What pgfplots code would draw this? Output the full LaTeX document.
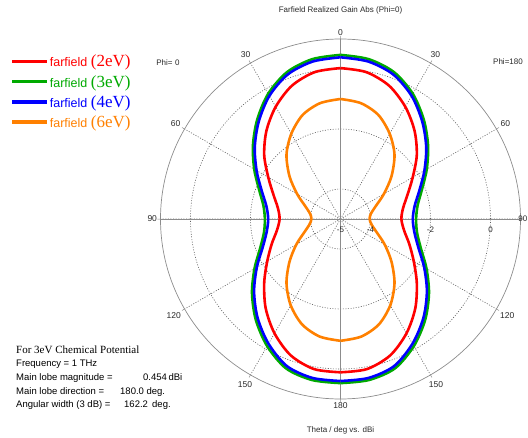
\documentclass[border=0pt]{standalone}
\usepackage{fontspec}
\setmainfont{Liberation Sans}
\newfontfamily\seriffont{Liberation Serif}
\usepackage{pgfplots}
\pgfplotsset{compat=1.18}
\usepgfplotslibrary{polar}
\usepackage{pgfplotstable}

\definecolor{cred}{RGB}{255,0,0}
\definecolor{cgreen}{RGB}{0,170,0}
\definecolor{cblue}{RGB}{0,0,255}
\definecolor{corange}{RGB}{255,128,0}
\definecolor{gridgray}{RGB}{95,95,95}
\definecolor{axgray}{RGB}{140,140,140}
\definecolor{txtgray}{RGB}{40,40,40}

% theta (deg), realized gain (dBi) for 2, 3, 4, 6 eV
\pgfplotstableread{
theta r2 r3 r4 r6
0 0.03 0.47 0.39 -1.00
10 -0.03 0.41 0.33 -1.08
20 -0.27 0.21 0.13 -1.31
30 -0.68 -0.18 -0.26 -1.72
40 -1.16 -0.68 -0.76 -2.20
50 -1.68 -1.19 -1.27 -2.78
60 -2.22 -1.68 -1.77 -3.33
70 -2.62 -2.11 -2.20 -3.75
80 -2.88 -2.39 -2.49 -3.97
90 -2.97 -2.48 -2.59 -4.03
100 -2.85 -2.41 -2.50 -3.95
110 -2.56 -2.15 -2.24 -3.72
120 -2.18 -1.69 -1.78 -3.30
130 -1.68 -1.15 -1.24 -2.78
140 -1.12 -0.61 -0.70 -2.20
150 -0.60 -0.11 -0.20 -1.68
160 -0.16 0.30 0.22 -1.26
170 0.08 0.45 0.38 -1.02
180 0.11 0.47 0.40 -0.94
}\gain

\begin{document}
\begin{tikzpicture}[x=1pt,y=1pt]
\useasboundingbox (0,0) rectangle (528,-438);
\begin{polaraxis}[
  at={(340.5pt,-219pt)}, anchor=center,
  scale only axis, width=360pt, height=360pt,
  xmin=0, xmax=360, ymin=0, ymax=6,
  xtick={0,30,...,330},
  xticklabels={,60,30,0,30,60,90,120,150,180,150,120},
  ytick={1,3,5}, yticklabels={},
  ytick style={draw=none},
  xtick style={axgray, line width=0.5pt},
  major tick length=3pt,
  grid=major,
  major grid style={gridgray, line width=0.6pt, dash pattern=on 1pt off 1.6pt},
  axis line style={axgray, line width=0.7pt},
  xticklabel style={font=\fontsize{8.5}{10}\selectfont, text=txtgray},
  legend style={at={(axis description cs:-0.425,0.964)}, anchor=north west,
    draw=none, fill=none, row sep=4.8pt,
    nodes={inner sep=1pt}},
  legend cell align=left,
  legend image code/.code={\draw[#1, line width=3.2pt] (0pt,0pt) -- (35pt,0pt);},
]
\draw[axgray, line width=0.8pt] (axis cs:90,6) -- (axis cs:270,6);
\draw[axgray, line width=0.8pt] (axis cs:0,6) -- (axis cs:180,6);

\addplot[cred, line width=2.6pt, smooth] table[x expr=90+\thisrow{theta}, y expr=\thisrow{r2}+5] {\gain};
\addlegendentry{\textcolor{cred}{\fontsize{12.5}{14}\selectfont farfield \seriffont\fontsize{17}{18}\selectfont(2eV)}}
\addplot[cgreen, line width=2.6pt, smooth] table[x expr=90+\thisrow{theta}, y expr=\thisrow{r3}+5] {\gain};
\addlegendentry{\textcolor{cgreen}{\fontsize{12.5}{14}\selectfont farfield \seriffont\fontsize{17}{18}\selectfont(3eV)}}
\addplot[cblue, line width=2.6pt, smooth] table[x expr=90+\thisrow{theta}, y expr=\thisrow{r4}+5] {\gain};
\addlegendentry{\textcolor{cblue}{\fontsize{12.5}{14}\selectfont farfield \seriffont\fontsize{17}{18}\selectfont(4eV)}}
\addplot[corange, line width=2.6pt, smooth] table[x expr=90+\thisrow{theta}, y expr=\thisrow{r6}+5] {\gain};
\addlegendentry{\textcolor{corange}{\fontsize{12.5}{14}\selectfont farfield \seriffont\fontsize{17}{18}\selectfont(6eV)}}

\addplot[cred, line width=2.6pt, smooth, forget plot] table[x expr=90-\thisrow{theta}, y expr=\thisrow{r2}+5] {\gain};
\addplot[cgreen, line width=2.6pt, smooth, forget plot] table[x expr=90-\thisrow{theta}, y expr=\thisrow{r3}+5] {\gain};
\addplot[cblue, line width=2.6pt, smooth, forget plot] table[x expr=90-\thisrow{theta}, y expr=\thisrow{r4}+5] {\gain};
\addplot[corange, line width=2.6pt, smooth, forget plot] table[x expr=90-\thisrow{theta}, y expr=\thisrow{r6}+5] {\gain};

\node[font=\fontsize{8}{9}\selectfont, text=txtgray, anchor=north, yshift=-4pt] at (axis cs:0,0) {-5};
\node[font=\fontsize{8}{9}\selectfont, text=txtgray, anchor=north, yshift=-4pt] at (axis cs:0,1) {-4};
\node[font=\fontsize{8}{9}\selectfont, text=txtgray, anchor=north, yshift=-4pt] at (axis cs:0,3) {-2};
\node[font=\fontsize{8}{9}\selectfont, text=txtgray, anchor=north, yshift=-4pt] at (axis cs:0,5) {0};
\end{polaraxis}

\node[font=\fontsize{8}{9}\selectfont, text=txtgray, anchor=east, inner sep=0pt] at (527.5,-219) {90};
\node[font=\fontsize{8}{9}\selectfont, text=txtgray] at (340.5,-10) {Farfield Realized Gain Abs (Phi=0)};
\node[font=\fontsize{8}{9}\selectfont, text=txtgray] at (340.5,-430) {Theta / deg vs. dBi};
\node[font=\fontsize{8}{9}\selectfont, text=txtgray] at (168,-62.5) {Phi=\,\,0};
\node[font=\fontsize{8}{9}\selectfont, text=txtgray] at (508,-62) {Phi=180};

\node[font=\seriffont\fontsize{11}{12}\selectfont, anchor=base west, inner sep=0pt] at (16,-353.5) {For 3eV Chemical Potential};
\node[font=\fontsize{9.5}{11}\selectfont, anchor=base west, inner sep=0pt] at (16,-367) {Frequency = 1 THz};
\node[font=\fontsize{9.5}{11}\selectfont, anchor=base west, inner sep=0pt] at (16,-381) {Main lobe magnitude =};
\node[font=\fontsize{9.5}{11}\selectfont, anchor=base west, inner sep=0pt] at (143,-381) {0.454\,dBi};
\node[font=\fontsize{9.5}{11}\selectfont, anchor=base west, inner sep=0pt] at (16,-394.5) {Main lobe direction =};
\node[font=\fontsize{9.5}{11}\selectfont, anchor=base west, inner sep=0pt] at (120,-394.5) {180.0 deg.};
\node[font=\fontsize{9.5}{11}\selectfont, anchor=base west, inner sep=0pt] at (16,-408) {Angular width (3 dB) =};
\node[font=\fontsize{9.5}{11}\selectfont, anchor=base west, inner sep=0pt] at (124,-408) {162.2\, deg.};
\end{tikzpicture}
\end{document}
